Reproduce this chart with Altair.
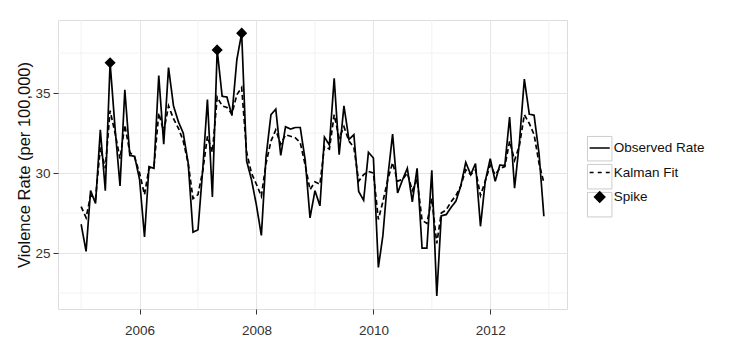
import altair as alt
import pandas as pd

# ---- data (monthly, Jan 2005 - Dec 2012) ----
start_month = "2005-01-01"
n_months = 96

observed = [
    26.8, 25.1, 28.9, 28.1, 32.7, 28.9, 36.9, 32.8, 29.2, 35.2, 31.1, 31.05,
    29.6, 26.0, 30.4, 30.3, 36.1, 31.8, 36.6, 34.2, 33.2, 32.5, 30.6, 26.3,
    26.45, 30.4, 34.6, 28.5, 37.7, 34.8, 34.75, 33.6, 37.1, 38.75, 30.75, 29.6,
    28.0, 26.1, 31.0, 33.65, 34.0, 31.1, 32.9, 32.75, 32.85, 32.85, 30.8, 27.2,
    28.9, 27.95, 32.25, 31.75, 35.93, 31.15, 34.2, 32.1, 32.4, 28.85, 28.3, 31.3,
    30.94, 24.1, 26.07, 29.75, 32.44, 28.75, 29.55, 30.3, 28.2, 30.3, 25.3, 25.3,
    30.17, 22.32, 27.33, 27.4, 27.85, 28.25, 29.2, 30.67, 29.9, 30.6, 26.67, 29.5,
    30.9, 29.48, 30.5, 30.47, 33.5, 29.06, 31.9, 35.87, 33.68, 33.62, 31.2, 27.3,
]

kalman_fit = [
    27.9, 27.2, 28.6, 28.4, 31.6, 30.3, 33.9, 32.5, 30.9, 33.0, 31.3, 31.0,
    30.0, 28.65, 30.3, 30.4, 33.75, 32.6, 34.2, 33.4, 32.8, 32.0, 30.6, 28.4,
    28.65, 30.2, 32.3, 31.3, 34.75, 34.2, 34.1, 33.7, 34.9, 35.35, 31.3, 30.0,
    29.3, 28.55, 30.6, 32.0, 32.7, 31.8, 32.4, 32.3, 32.2, 31.9, 30.5, 28.96,
    29.45, 29.3, 31.67, 31.5, 33.65, 32.2, 32.9, 32.0, 31.6, 29.5, 29.9, 30.1,
    30.0, 27.1, 28.2, 29.6, 30.65, 29.5, 29.6, 30.0, 28.9, 29.6, 27.05, 26.85,
    28.4, 25.6, 27.5, 27.7, 28.2, 28.6, 29.2, 30.2, 29.9, 30.2, 28.6, 29.5,
    30.5, 29.9, 30.3, 30.4, 32.0, 30.8, 31.7, 33.65, 33.1, 32.4, 30.6, 29.4,
]

spike_index = [6, 28, 33]

series_names = ["Observed Rate", "Kalman Fit", "Spike"]
key_box_ids = ["box 1", "box 2", "box 3"]
y_major = [25, 30, 35]
y_minor = [22.5, 27.5, 32.5, 37.5]
x_major_years = [2006, 2008, 2010, 2012]
x_minor_years = [2005, 2007, 2009, 2011, 2013]

# ---- tables ----
months = pd.date_range(start_month, periods=n_months, freq="MS")
wide = pd.DataFrame({"date": months, "Observed Rate": observed, "Kalman Fit": kalman_fit})
lines_df = wide.melt(id_vars="date", var_name="series", value_name="value")
spikes_df = pd.DataFrame({
    "date": months[spike_index],
    "value": [observed[i] for i in spike_index],
    "series": "Spike",
})
xminor_df = pd.DataFrame({"date": pd.to_datetime([f"{y}-01-01" for y in x_minor_years])})
yminor_df = pd.DataFrame({"value": y_minor})
key_df = pd.DataFrame({"key": key_box_ids})


def dt(ts):
    return alt.DateTime(year=int(ts.year), month=int(ts.month), date=int(ts.day),
                        hours=int(ts.hour), minutes=int(ts.minute))


# ggplot-like 5% expansion
span = months[-1] - months[0]
x_lo = months[0] - span * 0.05
x_hi = months[-1] + span * 0.05
all_y = observed + kalman_fit
y_rng = max(all_y) - min(all_y)
y_lo = min(all_y) - 0.05 * y_rng
y_hi = max(all_y) + 0.05 * y_rng

FONT = "Liberation Sans"
x_scale = alt.Scale(domain=[dt(x_lo), dt(x_hi)], nice=False)
y_scale = alt.Scale(domain=[y_lo, y_hi], nice=False, zero=False)

x_axis = alt.Axis(
    values=[alt.DateTime(year=y, month=1, date=1) for y in x_major_years],
    format="%Y", title=None, domain=False, grid=True, gridColor="#E5E5E5",
    gridWidth=1, ticks=True, tickSize=5, tickColor="#333333", tickWidth=1,
    labelFont=FONT, labelFontSize=13.5, labelColor="#333333", labelPadding=9,
)
y_axis = alt.Axis(
    values=y_major, title="Violence Rate (per 100,000)", domain=False, grid=True,
    gridColor="#E5E5E5", gridWidth=1, ticks=True, tickSize=5, tickColor="#333333",
    tickWidth=1, labelFont=FONT, labelFontSize=13.5, labelColor="#333333",
    labelPadding=3, titleFont=FONT, titleFontSize=16.5, titleFontWeight="normal",
    titleColor="#111111", titlePadding=2,
)

minor_x = alt.Chart(xminor_df).mark_rule(color="#F2F2F2", strokeWidth=1).encode(
    x=alt.X("date:T", scale=x_scale, axis=x_axis)
)
minor_y = alt.Chart(yminor_df).mark_rule(color="#F2F2F2", strokeWidth=1).encode(
    y=alt.Y("value:Q", scale=y_scale, axis=y_axis)
)

lines = alt.Chart(lines_df).mark_line(color="black", strokeWidth=1.7).encode(
    x=alt.X("date:T", scale=x_scale, axis=x_axis),
    y=alt.Y("value:Q", scale=y_scale, axis=y_axis),
    strokeDash=alt.StrokeDash(
        "series:N",
        scale=alt.Scale(domain=["Observed Rate", "Kalman Fit"], range=[[1, 0], [5, 3]]),
        legend=None,
    ),
    detail="series:N",
)

solid_path = "M-0.82,0L0.82,0"
dash_path = "M-0.82,0L-0.5,0M-0.16,0L0.16,0M0.5,0L0.82,0"
diamond_path = "M0,-0.42L0.42,0L0,0.42L-0.42,0Z"

points = alt.Chart(spikes_df).mark_point(
    filled=False, fill="black", stroke="black", strokeWidth=1.5, opacity=1, size=460
).encode(
    x=alt.X("date:T", scale=x_scale, axis=x_axis),
    y=alt.Y("value:Q", scale=y_scale, axis=y_axis),
    shape=alt.Shape(
        "series:N",
        scale=alt.Scale(domain=series_names, range=[solid_path, dash_path, diamond_path]),
        legend=alt.Legend(
            title=None, orient="none", legendX=528.7, legendY=115,
            symbolSize=600, symbolStrokeWidth=1.5, rowPadding=4.5, labelOffset=1,
            labelFont=FONT, labelFontSize=13.5, labelColor="#111111", zindex=2,
        ),
    ),
)

# grey key boxes behind the legend symbols (ggplot legend.key borders)
key_boxes = alt.Chart(key_df).mark_square(filled=False, opacity=0).encode(
    stroke=alt.Stroke(
        "key:N",
        scale=alt.Scale(domain=key_box_ids, range=["#CCCCCC", "#CCCCCC", "#CCCCCC"]),
        legend=alt.Legend(
            title=None, orient="none", legendX=528.7, legendY=115.7,
            symbolType="square", symbolSize=600, symbolStrokeWidth=1,
            rowPadding=-4, labelExpr="''", labelFontSize=13.5, zindex=1,
        ),
    ),
)

chart = (
    alt.layer(minor_x, minor_y, lines, points, key_boxes)
    .properties(
        width=509, height=289,
        autosize=alt.AutoSizeParams(type="none"),
        padding={"left": 50, "top": 12, "right": 172, "bottom": 45},
        background="white",
    )
    .configure_view(stroke="#7F7F7F", strokeWidth=1)
    .configure(font=FONT)
)

chart.save("out.html", embed_options={"renderer": "svg", "actions": False})
